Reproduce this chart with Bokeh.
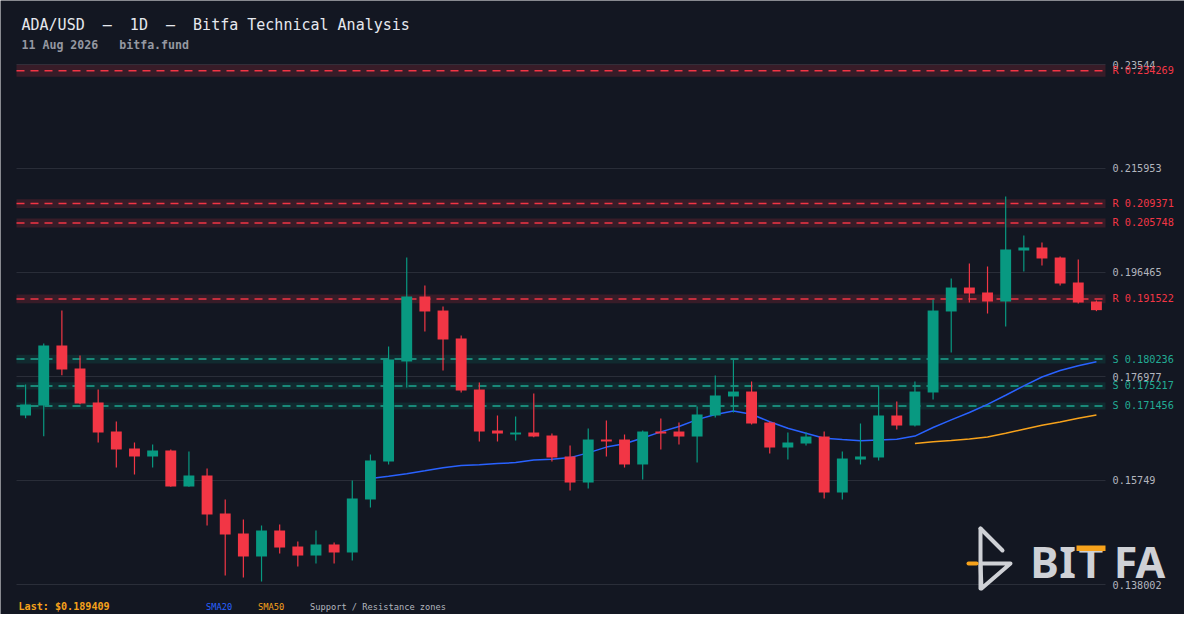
import pandas as pd
from bokeh.plotting import figure
from bokeh.models import (ColumnDataSource, BoxAnnotation, Label, PolyAnnotation, Range1d)
from bokeh.embed import file_html
from bokeh.resources import INLINE

# ---------------- data ----------------
opens = [0.16967, 0.17154, 0.18278, 0.17847, 0.17210, 0.16667, 0.16348, 0.16199, 0.16311, 0.15636,
         0.15842, 0.15130, 0.14756, 0.14325, 0.14812, 0.14512, 0.14343, 0.14550, 0.14400, 0.15393,
         0.16105, 0.17979, 0.19197, 0.18934, 0.18410, 0.17454, 0.16686, 0.16611, 0.16648, 0.16592,
         0.16199, 0.15711, 0.16517, 0.16517, 0.16049, 0.16667, 0.16667, 0.16573, 0.16967, 0.17323,
         0.17416, 0.16836, 0.16367, 0.16442, 0.16573, 0.15524, 0.16142, 0.16180, 0.16967, 0.16779,
         0.17398, 0.18916, 0.19365, 0.19272, 0.19103, 0.20059, 0.20115, 0.19927, 0.19459, 0.19103]
highs = [0.17548, 0.18316, 0.18934, 0.18091, 0.17454, 0.16854, 0.16461, 0.16423, 0.16330, 0.16292,
         0.15974, 0.15393, 0.15018, 0.14906, 0.14924, 0.14606, 0.14812, 0.14587, 0.15749, 0.16236,
         0.18260, 0.19927, 0.19403, 0.19009, 0.18466, 0.17585, 0.16967, 0.16948, 0.17379, 0.16629,
         0.16405, 0.16723, 0.16873, 0.16611, 0.16686, 0.16911, 0.16836, 0.17135, 0.17716, 0.18016,
         0.17604, 0.16855, 0.16648, 0.16648, 0.16667, 0.16292, 0.16817, 0.17529, 0.17229, 0.17604,
         0.19140, 0.19534, 0.19815, 0.19759, 0.21070, 0.20340, 0.20208, 0.19946, 0.19890, 0.19122]
lows = [0.16916, 0.16579, 0.17722, 0.17180, 0.16461, 0.15992, 0.15861, 0.15992, 0.15630, 0.15630,
        0.14906, 0.13969, 0.13931, 0.13856, 0.14381, 0.14137, 0.14194, 0.14194, 0.14250, 0.15243,
        0.16049, 0.17491, 0.18541, 0.17810, 0.17398, 0.16480, 0.16480, 0.16498, 0.16560, 0.16105,
        0.15561, 0.15599, 0.16199, 0.15992, 0.15767, 0.16330, 0.16423, 0.16086, 0.16929, 0.17023,
        0.16798, 0.16255, 0.16142, 0.16405, 0.15412, 0.15393, 0.16049, 0.16124, 0.16704, 0.16760,
        0.17267, 0.18147, 0.19084, 0.18878, 0.18634, 0.19665, 0.19777, 0.19403, 0.19065, 0.18922]
closes = [0.17173, 0.18278, 0.17829, 0.17192, 0.16648, 0.16330, 0.16199, 0.16311, 0.15636, 0.15842,
          0.15112, 0.14737, 0.14325, 0.14812, 0.14493, 0.14343, 0.14550, 0.14400, 0.15412, 0.16124,
          0.18016, 0.19197, 0.18916, 0.18391, 0.17435, 0.16667, 0.16629, 0.16648, 0.16573, 0.16180,
          0.15711, 0.16517, 0.16480, 0.16049, 0.16667, 0.16629, 0.16573, 0.16986, 0.17342, 0.17416,
          0.16817, 0.16367, 0.16461, 0.16573, 0.15524, 0.16161, 0.16199, 0.16967, 0.16779, 0.17416,
          0.18934, 0.19365, 0.19253, 0.19103, 0.20077, 0.20115, 0.19909, 0.19440, 0.19084, 0.189409]

resistance_levels = [0.234269, 0.209371, 0.205748, 0.191522]
resistance_half = [0.00112, 0.00084, 0.00084, 0.00084]
support_levels = [0.180236, 0.175217, 0.171456]
support_half = [0.00084, 0.00066, 0.00066]

y_ticks = [0.138002, 0.15749, 0.176977, 0.196465, 0.215953, 0.23544]

NB = "\u00a0"
title_text = f"ADA/USD{NB*2}\u2013{NB*2}1D{NB*2}\u2013{NB*2}Bitfa Technical Analysis"
subtitle_text = f"11 Aug 2026{NB*3}bitfa.fund"
legend_items = ["SMA20", "SMA50", "Support / Resistance zones"]

# ---------------- layout / style ----------------
W, H = 1184, 614
PLOT_L, PLOT_R, PLOT_T, PLOT_B = 16, 1105, 64, 584   # pixel box of the price area

BG = "#131722"
GRID = "#2a2e39"
UP = "#089981"
DOWN = "#f23645"
SUP = "#22ab94"
BLUE = "#2962ff"
ORANGE = "#f7a21b"
AXIS_TXT = "#b2b5be"
LOGO = "#cfd1d6"
MONO = "DejaVu Sans Mono"

n = len(closes)
idx = list(range(n))
ppx = (PLOT_R - PLOT_L) / n
ppy = (PLOT_B - PLOT_T) / (y_ticks[-1] - y_ticks[0])
x_range = Range1d(-0.5 - PLOT_L / ppx, n - 0.5 + (W - PLOT_R) / ppx)
y_range = Range1d(y_ticks[0] - (H - PLOT_B) / ppy, y_ticks[-1] + PLOT_T / ppy)

colors = [UP if c >= o else DOWN for o, c in zip(opens, closes)]
src = ColumnDataSource(dict(x=idx, open=opens, high=highs, low=lows, close=closes,
                            top=[max(o, c) for o, c in zip(opens, closes)],
                            bottom=[min(o, c) for o, c in zip(opens, closes)],
                            color=colors))

s = pd.Series(closes)
sma_src = ColumnDataSource(dict(x=idx, sma20=s.rolling(20).mean().tolist(),
                                sma50=s.rolling(50).mean().tolist()))

p = figure(width=W, height=H, output_backend="svg", toolbar_location=None, title=None,
           x_range=x_range, y_range=y_range, x_axis_location=None, y_axis_location=None,
           min_border=0, min_border_left=0, min_border_right=0, min_border_top=0,
           min_border_bottom=0, background_fill_color=BG, border_fill_color=BG,
           outline_line_color=None)
p.grid.visible = False

x_lo, x_hi = -0.5, n - 0.5

# horizontal grid lines + price labels
p.segment(x0=[x_lo] * len(y_ticks), x1=[x_hi] * len(y_ticks), y0=y_ticks, y1=y_ticks,
          line_color=GRID, line_width=1, level="underlay")

def label(x, y, text, color, size, bold=False, font=MONO, y_units="screen", align="left"):
    # y in screen units is given as a pixel row from the top
    yy = H - y if y_units == "screen" else y
    p.add_layout(Label(x=x, y=yy, x_units="screen", y_units=y_units, text=text,
                       text_color=color, text_font=font, text_font_size=size,
                       text_font_style="bold" if bold else "normal",
                       text_baseline="middle", text_align=align))

for t in y_ticks:
    label(PLOT_R + 7, t, f"{t:.6f}".rstrip("0").rstrip("."), AXIS_TXT, "10.2px", y_units="data")

# support / resistance zones
def zones(levels, halves, fill, line, alpha, prefix):
    for lvl, hw in zip(levels, halves):
        p.add_layout(BoxAnnotation(left=x_lo, right=x_hi, bottom=lvl - hw, top=lvl + hw,
                                   fill_color=fill, fill_alpha=alpha, line_color=None,
                                   level="underlay"))
        label(PLOT_R + 7, lvl, f"{prefix} {lvl:.6f}", line, "10.2px", y_units="data")
    p.segment(x0=[x_lo] * len(levels), x1=[x_hi] * len(levels), y0=levels, y1=levels,
              line_color=line, line_width=1.5, line_dash="8 6", level="underlay")

zones(resistance_levels, resistance_half, DOWN, DOWN, 0.17, "R")
zones(support_levels, support_half, UP, SUP, 0.15, "S")

# moving averages
p.line("x", "sma20", source=sma_src, line_color=BLUE, line_width=1.5)
p.line("x", "sma50", source=sma_src, line_color=ORANGE, line_width=1.5)

# candles
p.segment(x0="x", y0="low", x1="x", y1="high", source=src, line_color="color", line_width=1.2)
p.vbar(x="x", top="top", bottom="bottom", width=0.6, source=src, fill_color="color",
       line_color=None)

# header / footer texts
label(21, 24.5, title_text, "#e6e8ee", "15px")
label(21, 44.5, subtitle_text, "#9598a1", "11.6px", bold=True)
label(18, 605.5, f"Last: ${closes[-1]:.6f}", ORANGE, "10.1px", bold=True)
for x, txt, col in zip([205.5, 257.5, 309.5], legend_items, [BLUE, ORANGE, AXIS_TXT]):
    label(x, 606, txt, col, "8.7px")

# logo
def stroke(xs, ys, color=LOGO, width=4.0):
    p.add_layout(PolyAnnotation(xs=xs, ys=[H - y for y in ys], xs_units="screen",
                                ys_units="screen", line_color=color, line_alpha=1,
                                line_width=width, fill_alpha=0, line_cap="round",
                                line_join="round"))

stroke([980, 980], [528, 588])
stroke([980, 1002], [528, 550])
stroke([980, 1010, 981], [563, 563, 588])
stroke([968, 976], [563, 563], color=ORANGE)
for cx, letter in zip([1044, 1067, 1090.5, 1125, 1150], "BITFA"):
    label(cx, 560.5, letter, LOGO, "43px", bold=True, font="Noto Sans", align="center")
p.add_layout(PolyAnnotation(xs=[1076, 1105, 1105, 1076], ys=[H - 545, H - 545, H - 550.5, H - 550.5],
                            xs_units="screen", ys_units="screen", fill_color=ORANGE,
                            fill_alpha=1, line_color=None))

html = file_html(p, INLINE)
html = html.replace("<body>", '<body style="background-color:#131722;">', 1)
open("out.html", "w").write(html)
